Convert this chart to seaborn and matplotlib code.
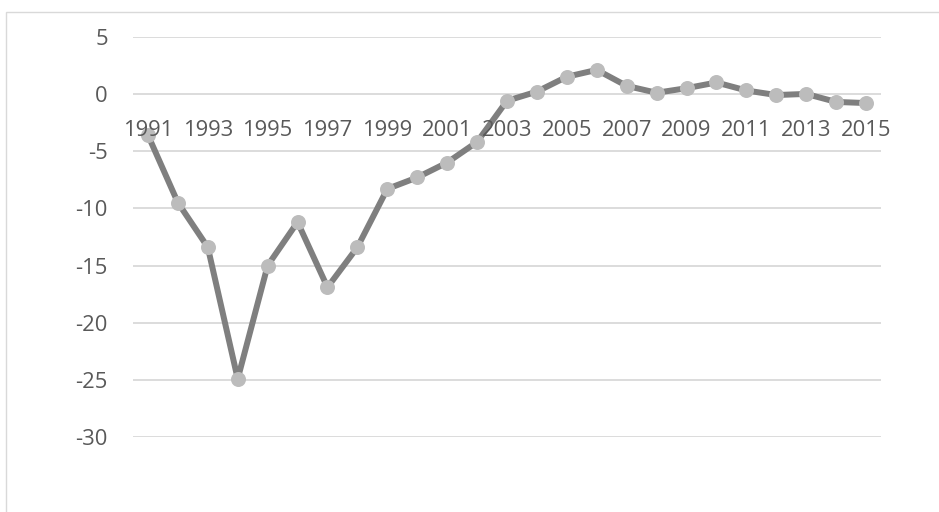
import matplotlib
matplotlib.use("Agg")
import matplotlib.pyplot as plt
import seaborn as sns
import pandas as pd
from matplotlib.patches import Rectangle

# Annual values, 1991-2015
years = list(range(1991, 2016))
values = [-3.6, -9.5, -13.4, -24.9, -15.0, -11.2, -16.9, -13.4, -8.3, -7.3,
          -6.0, -4.2, -0.6, 0.2, 1.5, 2.1, 0.7, 0.1, 0.5, 1.0,
          0.3, -0.1, 0.0, -0.7, -0.8]
x_tick_years = list(range(1991, 2016, 2))
y_ticks = [5, 0, -5, -10, -15, -20, -25, -30]

df = pd.DataFrame({"year": years, "value": values})

sns.set_theme(style="white")
plt.rcParams["font.family"] = ["Open Sans", "DejaVu Sans"]

W, H = 939, 512
fig = plt.figure(figsize=(W / 100, H / 100), dpi=100)
fig.patch.set_facecolor("white")

# chart-area frame
fig.patches.append(Rectangle((6 / W, -0.1), 1.2, 1 - 12 / H + 0.1,
                             transform=fig.transFigure, fill=False,
                             edgecolor="#d9d9d9", linewidth=1.0))

left, right, top, bottom = 133, 881, 36.7, 437.2
ax = fig.add_axes([left / W, 1 - bottom / H, (right - left) / W, (bottom - top) / H])
ax.set_facecolor("none")

sns.lineplot(data=df, x="year", y="value", ax=ax, color="#7f7f7f",
             linewidth=4.3, marker="o", markersize=10.8,
             markerfacecolor="#bcbcbc", markeredgewidth=0, zorder=2)

for t in y_ticks:
    ax.axhline(t, color="#d9d9d9", linewidth=1.3, zorder=0.5)

ax.set_xlim(1990.5, 2015.5)
ax.set_ylim(-30, 5)
ax.set_xticks(x_tick_years)
ax.set_xticklabels([str(y) for y in x_tick_years])
ax.set_yticks(y_ticks)
ax.set_yticklabels([str(t) for t in y_ticks])
ax.set_xlabel("")
ax.set_ylabel("")
ax.grid(False)
ax.set_axisbelow(False)

for s in ax.spines.values():
    s.set_visible(False)
ax.spines["bottom"].set_position(("data", 0))

ax.tick_params(axis="x", length=0, pad=18.5, labelsize=15.8, labelcolor="#595959")
ax.tick_params(axis="y", length=0, pad=18.0, labelsize=15.8, labelcolor="#595959")

fig.savefig("out.png", dpi=100)
